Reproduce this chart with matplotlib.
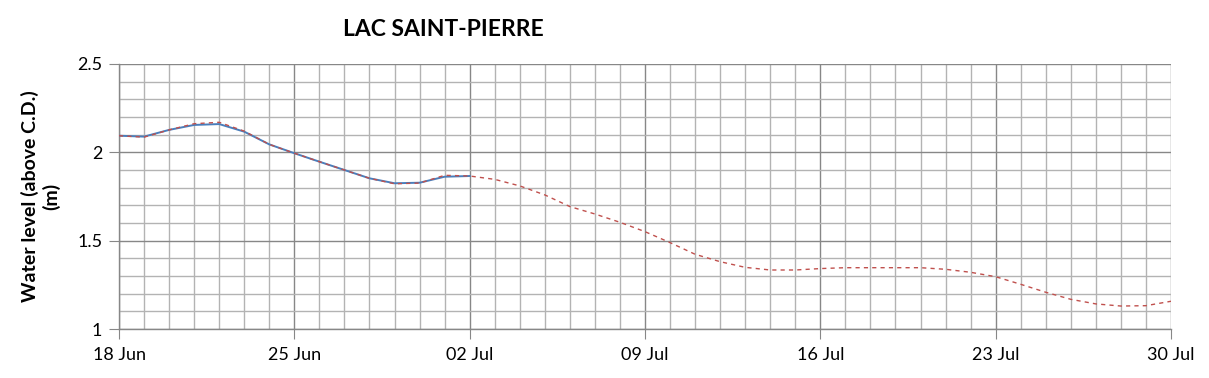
import matplotlib
matplotlib.use("Agg")
import matplotlib.pyplot as plt
import matplotlib.dates as mdates
from matplotlib.ticker import MultipleLocator, FuncFormatter
import datetime as dt

plt.rcParams['font.family'] = ['Lato', 'DejaVu Sans']

start = dt.date(2024, 6, 18)
observed_days = list(range(0, 15))
observed = [2.094, 2.089, 2.127, 2.155, 2.160, 2.117, 2.045, 1.995, 1.947,
            1.900, 1.853, 1.825, 1.828, 1.862, 1.866]
forecast_days = list(range(0, 43))
forecast = [2.094, 2.086, 2.127, 2.162, 2.170, 2.120, 2.045, 1.995, 1.947,
            1.900, 1.853, 1.822, 1.826, 1.870, 1.866, 1.847, 1.810, 1.759,
            1.693, 1.651, 1.604, 1.551, 1.489, 1.423, 1.381, 1.349, 1.334,
            1.334, 1.342, 1.347, 1.347, 1.347, 1.347, 1.338, 1.321, 1.296,
            1.253, 1.208, 1.168, 1.142, 1.130, 1.132, 1.157]
xtick_labels = ["18 Jun", "25 Jun", "02 Jul", "09 Jul", "16 Jul", "23 Jul", "30 Jul"]

obs_dates = [start + dt.timedelta(days=d) for d in observed_days]
fc_dates = [start + dt.timedelta(days=d) for d in forecast_days]

fig = plt.figure(figsize=(12.09, 3.78), dpi=100)
ax = fig.add_axes([119/1209, 49/378, 1052/1209, 265/378])

ax.plot(obs_dates, observed, color='#4a7ebb', lw=1.4, zorder=3)
ax.plot(fc_dates, forecast, color='#c0504d', lw=1.0, ls=(0, (3, 3)), zorder=4)

x0 = mdates.date2num(start)
ax.set_xlim(x0, x0 + 42)
ax.set_ylim(1, 2.5)

ax.set_xticks([x0 + 7 * i for i in range(7)])
ax.set_xticklabels(xtick_labels)
ax.set_xticks([x0 + i for i in range(43)], minor=True)
ax.yaxis.set_major_locator(MultipleLocator(0.5))
ax.yaxis.set_minor_locator(MultipleLocator(0.1))
ax.yaxis.set_major_formatter(FuncFormatter(lambda v, p: f"{v:g}"))

ax.grid(which='minor', color='#b3b3b3', lw=1.0, zorder=0)
ax.grid(which='major', color='#878787', lw=1.0, zorder=1)
ax.set_axisbelow(True)

for s in ['top', 'right']:
    ax.spines[s].set_visible(False)
for s in ['left', 'bottom']:
    ax.spines[s].set_color('#878787')
    ax.spines[s].set_linewidth(1.0)

ax.tick_params(axis='both', which='major', length=7, color='#878787', labelsize=13)
ax.tick_params(axis='x', which='major', pad=6)
ax.tick_params(axis='y', which='major', pad=5)
ax.tick_params(axis='both', which='minor', length=0)

ax.set_ylabel("Water level (above C.D.)\n(m)", fontsize=14, fontweight='bold', labelpad=12)

fig.text(443/1209, 1 - 30/378, "LAC SAINT-PIERRE", fontsize=16.5, fontweight='bold',
         ha='center', va='center')

fig.savefig("out.png", dpi=100)
